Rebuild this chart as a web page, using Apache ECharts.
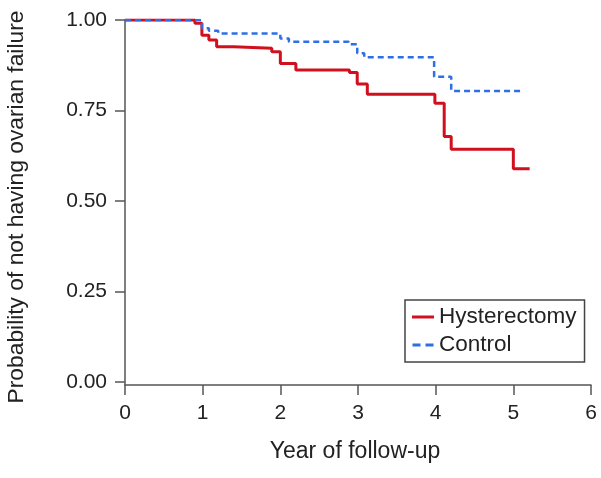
<!DOCTYPE html>
<html><head><meta charset="utf-8">
<script src="https://cdn.jsdelivr.net/npm/echarts@6/dist/echarts.min.js"></script>
<style>html,body{margin:0;padding:0;background:#fff}#c{width:601px;height:478px}</style>
</head><body><div id="c"></div>
<script>
var hystTimes = [0, 0.90, 0.99, 1.08, 1.18, 1.40, 1.89, 2.00, 2.20, 2.89, 2.99, 3.12, 3.99, 4.11, 4.20, 5.00, 5.21];
var hystSurv  = [1.0, 0.991, 0.958, 0.945, 0.926, 0.922, 0.912, 0.880, 0.862, 0.855, 0.823, 0.795, 0.770, 0.678, 0.643, 0.589, 0.589];
var ctrlTimes = [0, 0.99, 1.08, 1.20, 2.00, 2.11, 2.88, 2.99, 3.08, 3.98, 4.20, 5.10];
var ctrlSurv  = [1.0, 0.977, 0.970, 0.963, 0.949, 0.940, 0.933, 0.908, 0.897, 0.843, 0.804, 0.804];
var yTicks = [0, 0.25, 0.5, 0.75, 1];
var seriesNames = ['Hysterectomy', 'Control'];

function pairs(t, s) { return t.map(function (v, i) { return [v, s[i]]; }); }
var font = 'Liberation Sans, Arial, Helvetica, sans-serif';
var chart = echarts.init(document.getElementById('c'));
chart.setOption({
  animation: false,
  grid: { left: 125, right: 10, top: 20, bottom: 93, containLabel: false, outerBoundsMode: 'none' },
  xAxis: {
    type: 'value', min: 0, max: 6, interval: 1,
    name: 'Year of follow-up', nameLocation: 'middle', nameGap: 55,
    nameTextStyle: { fontFamily: font, fontSize: 23, color: '#222', padding: [0, 6, 0, 0] },
    axisLine: { onZero: false, lineStyle: { color: '#555', width: 1.5 } },
    axisTick: { length: 10, lineStyle: { color: '#555', width: 1.5 } },
    axisLabel: { fontFamily: font, fontSize: 21, color: '#222', margin: 18 },
    splitLine: { show: false }
  },
  yAxis: {
    type: 'value', min: -0.0085, max: 1,
    name: 'Probability of not having ovarian failure', nameLocation: 'middle', nameGap: 97,
    nameTextStyle: { fontFamily: font, fontSize: 22.8, color: '#222', padding: [0, 9, 0, 0] },
    axisLine: { show: true, lineStyle: { color: '#555', width: 1.5 } },
    axisTick: { show: true, length: 10, customValues: yTicks, lineStyle: { color: '#555', width: 1.5 } },
    axisLabel: { fontFamily: font, fontSize: 21, color: '#222', margin: 18, customValues: yTicks,
      formatter: function (v) { return v.toFixed(2); } },
    splitLine: { show: false }
  },
  legend: {
    orient: 'vertical', left: 405, top: 300,
    data: [
      { name: seriesNames[0], icon: 'path://M0,0h22v3h-22z' },
      { name: seriesNames[1], icon: 'path://M0,0h8v3h-8z M13,0h8v3h-8z' }
    ],
    itemWidth: 22, itemHeight: 3, itemGap: 4,
    padding: [5, 8, 5, 7],
    borderColor: '#444', borderWidth: 1.5, backgroundColor: '#fff',
    textStyle: { fontFamily: font, fontSize: 22.5, color: '#222', lineHeight: 24 }
  },
  series: [
    { name: seriesNames[0], type: 'line', step: 'end', data: pairs(hystTimes, hystSurv),
      symbol: 'none', showSymbol: false,
      lineStyle: { color: '#d0101e', width: 3 }, itemStyle: { color: '#d0101e' }, z: 2 },
    { name: seriesNames[1], type: 'line', step: 'end', data: pairs(ctrlTimes, ctrlSurv),
      symbol: 'none', showSymbol: false,
      lineStyle: { color: '#2e6fe6', width: 2.5, type: [6, 4] }, itemStyle: { color: '#2e6fe6' }, z: 3 }
  ]
});
</script></body></html>
